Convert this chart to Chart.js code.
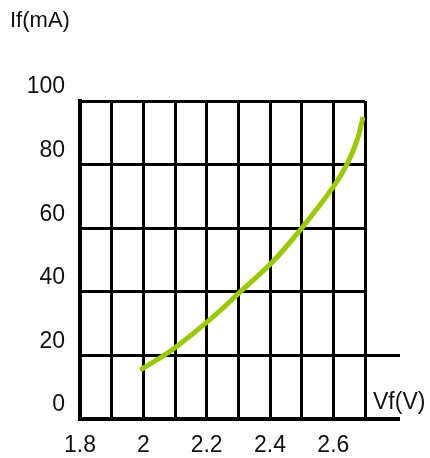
<!DOCTYPE html>
<html>
<head>
<meta charset="utf-8">
<script src="https://cdn.jsdelivr.net/npm/chart.js@4.4.0/dist/chart.umd.min.js"></script>
<style>
html, body { margin: 0; padding: 0; background: #fff; }
</style>
</head>
<body>
<canvas id="graphCanvas" width="430" height="458"></canvas>
<script>
// forward voltage (V) and forward current (mA)
let vf_values = [1.99, 2.09, 2.22, 2.305, 2.405, 2.495, 2.6, 2.645, 2.675, 2.694];
let if_values = [15.4, 21.7, 32.1, 39.9, 49.1, 59.4, 73.0, 80.5, 87.7, 95.0];

let x_min = 1.8;
let x_max = 2.7;
let y_min = 0;
let y_max = 100;
let y_ticks = [0, 20, 40, 60, 80, 100];
let extended_levels = [0, 20]; // horizontal lines that run past the frame
let x_name = "Vf(V)";
let y_name = "If(mA)";

const fontFamily = '"Liberation Sans", Arial, sans-serif';

const graphCanvas = document.getElementById("graphCanvas");
const ctx = graphCanvas.getContext("2d");

const extraLines = {
    id: "extraLines",
    afterDraw(chart) {
        const { ctx, chartArea, scales } = chart;
        ctx.save();
        ctx.strokeStyle = "#000";
        extended_levels.forEach((v) => {
            const y = Math.round(scales.y.getPixelForValue(v)) + (v === 0 ? 0 : 0.5);
            ctx.lineWidth = v === 0 ? 4 : 3;
            ctx.beginPath();
            ctx.moveTo(chartArea.right - 1, y);
            ctx.lineTo(chartArea.right + 35, y);
            ctx.stroke();
        });

        // axis names
        ctx.fillStyle = "#111";
        ctx.textAlign = "left";
        ctx.textBaseline = "alphabetic";
        ctx.font = "22px " + fontFamily;
        ctx.fillText(y_name, 10, 27);
        ctx.font = "23px " + fontFamily;
        ctx.fillText(x_name, chartArea.right + 8, scales.y.getPixelForValue(0) - 10);
        ctx.restore();
    },
};

let chart = new Chart(ctx, {
    type: "scatter",
    data: {
        datasets: [{
            data: vf_values.map((v, i) => ({ x: v, y: if_values[i] })),
            showLine: true,
            borderColor: "#99cc00",
            borderWidth: 5,
            borderCapStyle: "butt",
            tension: 0.4,
            pointRadius: 0,
            fill: false,
        }],
    },
    options: {
        responsive: false,
        animation: false,
        layout: { padding: { top: 101, right: 65, left: 0, bottom: 0 } },
        plugins: {
            legend: { display: false },
            tooltip: { enabled: false },
        },
        scales: {
            x: {
                type: "linear",
                min: x_min,
                max: x_max,
                afterFit: (scale) => { scale.height = 39; },
                grid: { color: "#000", lineWidth: 3, drawTicks: false },
                border: { display: true, color: "#000", width: 4 },
                ticks: {
                    stepSize: 0.1,
                    padding: 13,
                    color: "#111",
                    font: { family: fontFamily, size: 23 },
                    maxRotation: 0,
                    autoSkip: false,
                    callback: (value) => {
                        let t = Math.round(value * 10);
                        return t % 2 === 0 ? String(t / 10) : "";
                    },
                },
            },
            y: {
                type: "linear",
                min: y_min,
                max: y_max,
                afterFit: (scale) => { scale.width = 80; },
                afterBuildTicks: (scale) => { scale.ticks = y_ticks.map((v) => ({ value: v })); },
                grid: { color: "#000", lineWidth: 3, drawTicks: false },
                border: { display: true, color: "#000", width: 4 },
                ticks: {
                    padding: 15,
                    labelOffset: -14,
                    color: "#111",
                    font: { family: fontFamily, size: 23 },
                },
            },
        },
    },
    plugins: [extraLines],
});
</script>
</body>
</html>
